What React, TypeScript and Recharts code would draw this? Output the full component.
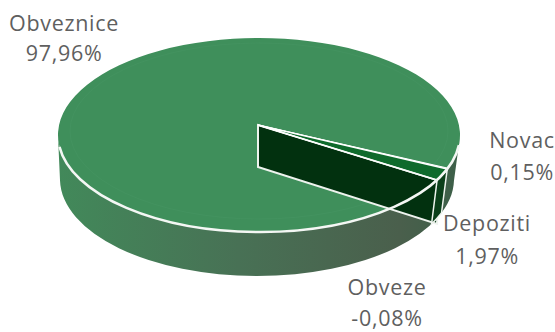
import { PieChart, Pie } from 'recharts'

// ─── Data ─────────────────────────────────────────────────────────────────────

const NAMES = ['Obveznice', 'Novac', 'Depoziti', 'Obveze']
const VALUES = [97.96, 0.15, 1.97, -0.08]
const VALUE_LABELS = ['97,96%', '0,15%', '1,97%', '-0,08%']
const TOP_COLORS = ['#3f8f5b', '#0f6a2c', '#0f6a2c', '#0f6a2c']

const data = NAMES.map((name, i) => ({ name, value: VALUES[i], text: VALUE_LABELS[i] }))

// ─── Layout ───────────────────────────────────────────────────────────────────

const WIDTH = 555
const HEIGHT = 332
const CX = 259
const CY = 135
const RADIUS = 201
const TILT = 97 / 201
const DEPTH = 44
const APEX_LIFT = 10
const LOWER_SHIFT = 2
const LOWER_SHRINK = 4

const LABEL_POS = [
  { x: 64, lines: [31, 61] },
  { x: 522, lines: [148, 180] },
  { x: 487, lines: [231, 264] },
  { x: 387, lines: [295, 325.5] },
]

// ─── Projection helpers ───────────────────────────────────────────────────────

function rim(cx: number, cy: number, r: number, deg: number, ry = r * TILT) {
  const a = (deg * Math.PI) / 180
  return { x: cx + r * Math.cos(a), y: cy - ry * Math.sin(a) }
}

function arc(cx: number, cy: number, r: number, from: number, to: number, ry = r * TILT) {
  const p = rim(cx, cy, r, to, ry)
  const large = Math.abs(from - to) > 180 ? 1 : 0
  const sweep = to < from ? 1 : 0
  return `A${r} ${ry} 0 ${large} ${sweep} ${p.x} ${p.y}`
}

function wallPath(cx: number, cy: number, r: number, from: number, to: number) {
  const a = rim(cx, cy, r, from)
  const lx = cx - LOWER_SHIFT
  const ly = cy + DEPTH
  const lr = r - LOWER_SHRINK
  const ry = r * TILT
  const b = rim(lx, ly, lr, to, ry)
  return `M${a.x} ${a.y}${arc(cx, cy, r, from, to)}L${b.x} ${b.y}${arc(lx, ly, lr, to, from, ry)}Z`
}

// ─── Slice shape ──────────────────────────────────────────────────────────────

function Slice3D(props: any) {
  const { cx, cy, outerRadius: r, startAngle, endAngle, index, fill } = props
  const apex = { x: cx - 1, y: cy - APEX_LIFT }
  const a = rim(cx, cy, r, startAngle)
  const top = `M${apex.x} ${apex.y}L${a.x} ${a.y}${arc(cx, cy, r, startAngle, endAngle)}Z`

  if (index === 0) {
    return (
      <g>
        <defs>
          <linearGradient id="wallFill" x1="0" y1="0" x2="1" y2="0">
            <stop offset="0" stopColor="#42895a" />
            <stop offset="0.45" stopColor="#487155" />
            <stop offset="0.85" stopColor="#4a5f4c" />
            <stop offset="1" stopColor="#3c5f48" />
          </linearGradient>
        </defs>
        <path d={wallPath(cx, cy, r, -1, -179)} fill="url(#wallFill)" />
        <path d={top} fill={fill} />
        <ellipse cx={cx} cy={cy - 4} rx={r - 12} ry={r * TILT - 9} fill="none" stroke="#4b9766" strokeWidth={1} opacity={0.35} />
      </g>
    )
  }

  if (index === 2) {
    const b = rim(cx, cy, r, endAngle)
    const wall = `M${apex.x} ${apex.y}L${b.x} ${b.y}L${b.x} ${b.y + 44}L${apex.x} ${apex.y + 42}Z`
    const rimStart = rim(cx, cy, r, -6)
    return (
      <g>
        <path d={top} fill={fill} />
        <path d={wall} fill="#02310f" stroke="#eef3ee" strokeWidth={2} strokeLinejoin="miter" />
        <path d={wallPath(cx, cy, r, startAngle, endAngle)} fill="#0b3f1a" stroke="#eef3ee" strokeWidth={1.5} />
        <path d={top} fill={fill} stroke="#ffffff" strokeWidth={1.5} />
        <path
          d={`M${rimStart.x} ${rimStart.y}${arc(cx, cy, r, -6, -173)}`}
          fill="none"
          stroke="#f4f7f4"
          strokeWidth={2.5}
        />
      </g>
    )
  }

  return <path d={top} fill={fill} stroke="#ffffff" strokeWidth={1} />
}

// ─── Labels ───────────────────────────────────────────────────────────────────

function SliceLabel(props: any) {
  const { index } = props
  const pos = LABEL_POS[index]
  const style = { fontFamily: '"Open Sans", sans-serif', fontSize: 21.5, fill: '#5f5f5f', letterSpacing: 0.7 }
  return (
    <g>
      <text x={pos.x} y={pos.lines[0]} textAnchor="middle" style={style}>{NAMES[index]}</text>
      <text x={pos.x} y={pos.lines[1]} textAnchor="middle" style={style}>{VALUE_LABELS[index]}</text>
    </g>
  )
}

// ─── App ──────────────────────────────────────────────────────────────────────

export default function App() {
  const cells = data.map((d, i) => ({ ...d, fill: TOP_COLORS[i] }))
  return (
    <div style={{ position: 'absolute', left: 0, top: 0, width: WIDTH, height: HEIGHT, background: '#fff' }}>
      <PieChart width={WIDTH} height={HEIGHT} margin={{ top: 0, right: 0, left: 0, bottom: 0 }}>
        <Pie
          data={cells}
          dataKey={(d: any) => Math.abs(d.value)}
          nameKey="name"
          cx={CX}
          cy={CY}
          innerRadius={0}
          outerRadius={RADIUS}
          startAngle={-27.9}
          endAngle={-387.9}
          stroke="none"
          shape={Slice3D}
          label={SliceLabel}
          labelLine={false}
          isAnimationActive={false}
        />
      </PieChart>
    </div>
  )
}
